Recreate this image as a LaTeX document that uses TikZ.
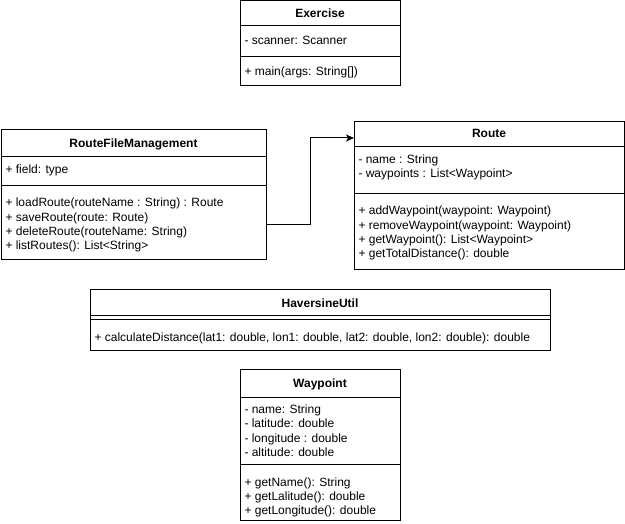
\documentclass[tikz,border=0pt]{standalone}
\usepackage{fontspec}
\setmainfont{Liberation Sans}
\usepackage{tikz}
\usetikzlibrary{arrows.meta,positioning}

\begin{document}
\begin{tikzpicture}[x=1pt,y=-1pt,line width=1pt,font=\fontsize{12}{14}\selectfont,
  cls/.style={draw,rectangle,anchor=north west,inner sep=0pt,outer sep=0pt},
  ttl/.style={anchor=base,inner sep=0pt,font=\fontsize{12}{14}\selectfont\bfseries},
  mem/.style={anchor=base west,inner sep=0pt},
  assoc/.style={-{Stealth[length=8pt,width=7pt,inset=2pt]}}]
  \useasboundingbox (0,0) rectangle (625,524);

  \node[cls,minimum width=160pt,minimum height=85pt] (exercise) at (240,1) {};
  \draw (exercise.west |- 0,26) -- (exercise.east |- 0,26);
  \draw (exercise.west |- 0,57) -- (exercise.east |- 0,57);
  \node[ttl] (exercise-name) at (320,17.5) {Exercise};
  \node[mem] (exercise-attr) at (244,44.5) {- scanner: Scanner};
  \node[mem] (exercise-op) at (244,76) {+ main(args: String[])};

  \node[cls,minimum width=265pt,minimum height=130pt] (rfm) at (1,130) {};
  \draw (rfm.west |- 0,157) -- (rfm.east |- 0,157);
  \draw (rfm.west |- 0,186) -- (rfm.east |- 0,186);
  \node[ttl] (rfm-name) at (133.5,148) {RouteFileManagement};
  \node[mem] (rfm-attr) at (5,174) {+ field: type};
  \foreach \t [count=\i] in {+ loadRoute(routeName : String) : Route,+ saveRoute(route: Route),+ deleteRoute(routeName: String),+ listRoutes(): List<String>}
    \node[mem] (rfmop\i) at (5,207+14.3*\i-14.3) {\t};

  \node[cls,minimum width=270pt,minimum height=148pt] (route) at (354,122) {};
  \draw (route.west |- 0,147) -- (route.east |- 0,147);
  \draw (route.west |- 0,194) -- (route.east |- 0,194);
  \node[ttl] (route-name) at (489,137.5) {Route};
  \foreach \t [count=\i] in {- name : String,- waypoints : List<Waypoint>}
    \node[mem] (routeattr\i) at (358,163.5+14*\i-14) {\t};
  \foreach \t [count=\i] in {+ addWaypoint(waypoint: Waypoint),+ removeWaypoint(waypoint: Waypoint),+ getWaypoint(): List<Waypoint>,+ getTotalDistance(): double}
    \node[mem] (routeop\i) at (358,215+14.3*\i-14.3) {\t};

  \draw[assoc] ([yshift=-30pt]rfm.east) -- ++(44,0) |- ([yshift=58pt]route.west);

  \node[cls,minimum width=460pt,minimum height=61pt] (haversine) at (90,290) {};
  \draw (haversine.west |- 0,316) -- (haversine.east |- 0,316);
  \draw (haversine.west |- 0,320) -- (haversine.east |- 0,320);
  \node[ttl] (haversine-name) at (320,307.5) {HaversineUtil};
  \node[mem] (haversine-op) at (94,341.5) {+ calculateDistance(lat1: double, lon1: double, lat2: double, lon2: double): double};

  \node[cls,minimum width=160pt,minimum height=150pt] (waypoint) at (240,370) {};
  \draw (waypoint.west |- 0,398) -- (waypoint.east |- 0,398);
  \draw (waypoint.west |- 0,464) -- (waypoint.east |- 0,464);
  \node[ttl] (waypoint-name) at (320,387.5) {Waypoint};
  \foreach \t [count=\i] in {- name: String,- latitude: double,- longitude : double,- altitude: double}
    \node[mem] (waypointattr\i) at (244,413.5+14.3*\i-14.3) {\t};
  \foreach \t [count=\i] in {+ getName(): String,+ getLalitude(): double,+ getLongitude(): double}
    \node[mem] (waypointop\i) at (244,486+14.3*\i-14.3) {\t};
\end{tikzpicture}
\end{document}
